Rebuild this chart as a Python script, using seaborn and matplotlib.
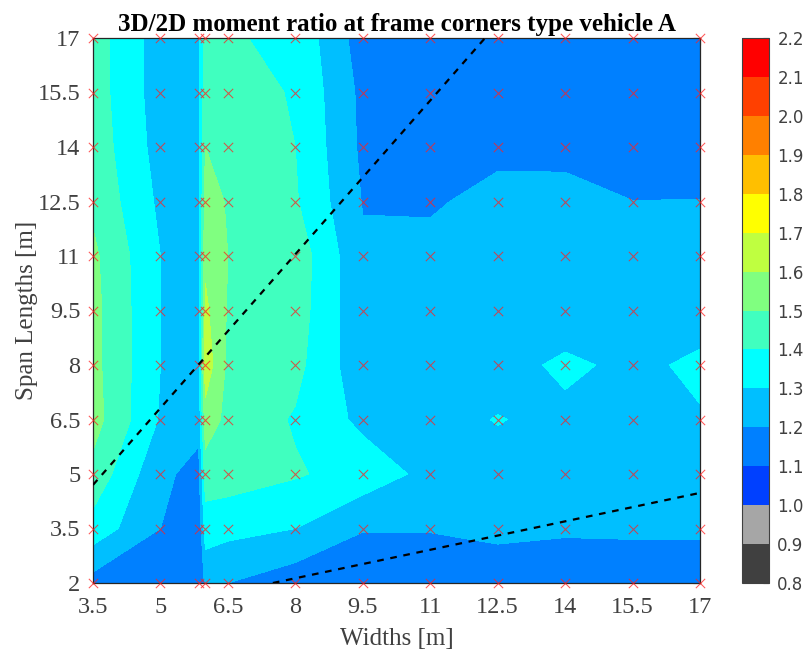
import numpy as np
import pandas as pd
import matplotlib
matplotlib.use("Agg")
import matplotlib.pyplot as plt
import seaborn as sns
from matplotlib.colors import ListedColormap, BoundaryNorm

# ---------------- data ----------------
widths = [3.5, 5.0, 5.85, 6.0, 6.5, 8.0, 9.5, 11.0, 12.5, 14.0, 15.5, 17.0]
spans = [2.0, 3.5, 5.0, 6.5, 8.0, 9.5, 11.0, 12.5, 14.0, 15.5, 17.0]

ratio_span_2_0 = [1.16, 1.12, 1.11, 1.22, 1.20, 1.14, 1.13, 1.14, 1.15, 1.15, 1.15, 1.15]
ratio_span_3_5 = [1.36, 1.20, 1.12, 1.35, 1.33, 1.30, 1.205, 1.205, 1.22, 1.21, 1.2125, 1.2125]
ratio_span_5_0 = [1.47, 1.22, 1.17, 1.45, 1.45, 1.41, 1.36, 1.27, 1.26, 1.26, 1.25, 1.25]
ratio_span_6_5 = [1.54, 1.29, 1.23, 1.56, 1.47, 1.39, 1.275, 1.26, 1.305, 1.27, 1.26, 1.29]
ratio_span_8_0 = [1.53, 1.30, 1.25, 1.66, 1.48, 1.43, 1.23, 1.25, 1.25, 1.325, 1.27, 1.325]
ratio_span_9_5 = [1.53, 1.30, 1.25, 1.62, 1.49, 1.45, 1.22, 1.24, 1.24, 1.22, 1.23, 1.24]
ratio_span_11_0 = [1.52, 1.30, 1.25, 1.58, 1.50, 1.46, 1.215, 1.235, 1.24, 1.24, 1.23, 1.23]
ratio_span_12_5 = [1.48, 1.28, 1.26, 1.55, 1.49, 1.41, 1.195, 1.185, 1.237, 1.235, 1.201, 1.202]
ratio_span_14_0 = [1.46, 1.26, 1.27, 1.50, 1.46, 1.40, 1.18, 1.16, 1.17, 1.17, 1.15, 1.15]
ratio_span_15_5 = [1.45, 1.25, 1.27, 1.47, 1.45, 1.39, 1.175, 1.14, 1.14, 1.14, 1.14, 1.14]
ratio_span_17_0 = [1.45, 1.25, 1.27, 1.46, 1.41, 1.377, 1.15, 1.13, 1.13, 1.13, 1.13, 1.13]

levels = [0.8, 0.9, 1.0, 1.1, 1.2, 1.3, 1.4, 1.5, 1.6, 1.7, 1.8, 1.9, 2.0, 2.1, 2.2]
level_colors = ["#404040", "#a6a6a6", "#0040ff", "#0080ff", "#00bfff", "#00ffff",
                "#40ffbf", "#80ff80", "#bfff40", "#ffff00", "#ffbf00", "#ff8000",
                "#ff4000", "#ff0000"]

xtick_vals = [3.5, 5, 6.5, 8, 9.5, 11, 12.5, 14, 15.5, 17]
ytick_vals = [2, 3.5, 5, 6.5, 8, 9.5, 11, 12.5, 14, 15.5, 17]

line1_x = [3.5, 12.22]
line1_y = [4.70, 17.0]
line2_x = [7.5, 17.0]
line2_y = [2.0, 4.48]

# ---------------- plot ----------------
sns.set_theme(style="white")
plt.rcParams["font.family"] = ["Liberation Serif", "DejaVu Serif"]

fig = plt.figure(figsize=(8.06, 6.49), dpi=100)
ax = fig.add_axes([93 / 806, 1 - 583 / 649, 607 / 806, 545 / 649])
cax = fig.add_axes([742 / 806, 1 - 583 / 649, 27 / 806, 545 / 649])

Z = np.array([ratio_span_2_0, ratio_span_3_5, ratio_span_5_0, ratio_span_6_5,
              ratio_span_8_0, ratio_span_9_5, ratio_span_11_0, ratio_span_12_5,
              ratio_span_14_0, ratio_span_15_5, ratio_span_17_0])

cmap = ListedColormap(level_colors)
norm = BoundaryNorm(levels, cmap.N)
cs = ax.contourf(widths, spans, Z, levels=levels, cmap=cmap, norm=norm, antialiased=False)

# grid points
XX, YY = np.meshgrid(widths, spans)
pts = pd.DataFrame({"width": XX.ravel(), "span": YY.ravel()})
sns.scatterplot(data=pts, x="width", y="span", marker="x", color="#ff2020",
                s=45, linewidth=0.75, alpha=0.75, ax=ax, legend=False, zorder=4,
                clip_on=False)

# dashed lines
l1 = pd.DataFrame({"x": line1_x, "y": line1_y})
l2 = pd.DataFrame({"x": line2_x, "y": line2_y})
for d in (l1, l2):
    sns.lineplot(data=d, x="x", y="y", ax=ax, color="black", linewidth=1.6,
                 linestyle=(0, (3, 3)), sort=False, zorder=5)

ax.set_xlim(3.5, 17)
ax.set_ylim(2, 17)
ax.set_xticks(xtick_vals)
ax.set_yticks(ytick_vals)
ax.set_xticklabels([f"{v:g}" for v in xtick_vals])
ax.set_yticklabels([f"{v:g}" for v in ytick_vals])
ax.tick_params(direction="in", top=True, right=True, length=5, width=0.8,
               color="#262626", labelsize=17.5, labelcolor="#404040")
ax.tick_params(axis="x", pad=10)
ax.tick_params(axis="y", pad=9)
for sp in ax.spines.values():
    sp.set_color("#262626")
    sp.set_linewidth(0.9)
    sp.set_visible(True)

ax.set_xlabel("Widths [m]", fontsize=18, color="#404040", labelpad=7)
ax.set_ylabel("Span Lengths [m]", fontsize=18, color="#404040", labelpad=0)
ax.set_title("3D/2D moment ratio at frame corners type vehicle A",
             fontsize=18, fontweight="bold", color="black", pad=5)

cb = fig.colorbar(cs, cax=cax, ticks=levels)
cb.ax.set_yticklabels([f"{v:.1f}" for v in levels], family="DejaVu Sans",
                      fontsize=12, color="#404040")
cb.ax.tick_params(direction="in", length=4, width=0.8, color="#262626", pad=6)
cb.outline.set_edgecolor("#404040")
cb.outline.set_linewidth(0.8)

fig.savefig("out.png", dpi=100)
